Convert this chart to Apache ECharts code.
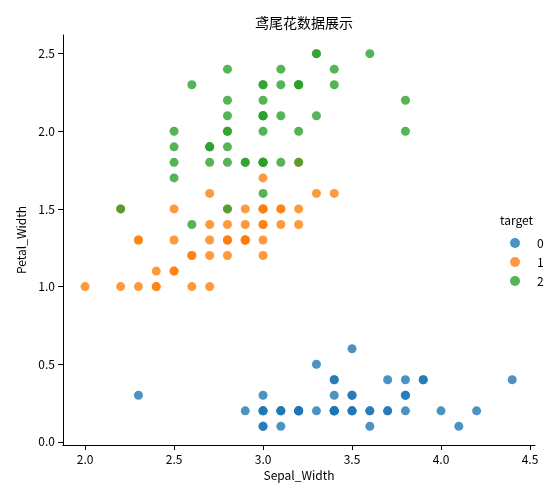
<!DOCTYPE html>
<html><head><meta charset="utf-8">
<script src="https://cdn.jsdelivr.net/npm/echarts@6/dist/echarts.min.js"></script>
<style>html,body{margin:0;padding:0;background:#fff}#c{width:558px;height:500px}</style>
</head><body><div id="c"></div>
<script>
const sepalWidth0=[3.5,3.0,3.2,3.1,3.6,3.9,3.4,3.4,2.9,3.1,3.7,3.4,3.0,3.0,4.0,4.4,3.9,3.5,3.8,3.8,3.4,3.7,3.6,3.3,3.4,3.0,3.4,3.5,3.4,3.2,3.1,3.4,4.1,4.2,3.1,3.2,3.5,3.6,3.0,3.4,3.5,2.3,3.2,3.5,3.8,3.0,3.8,3.2,3.7,3.3];
const petalWidth0=[0.2,0.2,0.2,0.2,0.2,0.4,0.3,0.2,0.2,0.1,0.2,0.2,0.1,0.1,0.2,0.4,0.4,0.3,0.3,0.3,0.2,0.4,0.2,0.5,0.2,0.2,0.4,0.2,0.2,0.2,0.2,0.4,0.1,0.2,0.2,0.2,0.2,0.1,0.2,0.2,0.3,0.3,0.2,0.6,0.4,0.3,0.2,0.2,0.2,0.2];
const sepalWidth1=[3.2,3.2,3.1,2.3,2.8,2.8,3.3,2.4,2.9,2.7,2.0,3.0,2.2,2.9,2.9,3.1,3.0,2.7,2.2,2.5,3.2,2.8,2.5,2.8,2.9,3.0,2.8,3.0,2.9,2.6,2.4,2.4,2.7,2.7,3.0,3.4,3.1,2.3,3.0,2.5,2.6,3.0,2.6,2.3,2.7,3.0,2.9,2.9,2.5,2.8];
const petalWidth1=[1.4,1.5,1.5,1.3,1.5,1.3,1.6,1.0,1.3,1.4,1.0,1.5,1.0,1.4,1.3,1.4,1.5,1.0,1.5,1.1,1.8,1.3,1.5,1.2,1.3,1.4,1.4,1.7,1.5,1.0,1.1,1.0,1.2,1.6,1.5,1.6,1.5,1.3,1.3,1.3,1.2,1.4,1.2,1.0,1.3,1.2,1.3,1.3,1.1,1.3];
const sepalWidth2=[3.3,2.7,3.0,2.9,3.0,3.0,2.5,2.9,2.5,3.6,3.2,2.7,3.0,2.5,2.8,3.2,3.0,3.8,2.6,2.2,3.2,2.8,2.8,2.7,3.3,3.2,2.8,3.0,2.8,3.0,2.8,3.8,2.8,2.8,2.6,3.0,3.4,3.1,3.0,3.1,3.1,3.1,2.7,3.2,3.3,3.0,2.5,3.0,3.4,3.0];
const petalWidth2=[2.5,1.9,2.1,1.8,2.2,2.1,1.7,1.8,1.8,2.5,2.0,1.9,2.1,2.0,2.4,2.3,1.8,2.2,2.3,1.5,2.3,2.0,2.0,1.8,2.1,1.8,1.8,1.8,2.1,1.6,1.9,2.0,2.2,1.5,1.4,2.3,2.4,1.8,1.8,2.1,2.4,2.3,1.9,2.3,2.5,2.3,1.9,2.0,2.3,1.8];
const xTicks=[2,2.5,3,3.5,4,4.5];
const yTicks=[0,0.5,1,1.5,2,2.5];
const targets=['0','1','2'];
const colors=['#1f77b4','#ff7f0e','#2ca02c'];
const xs=[sepalWidth0,sepalWidth1,sepalWidth2], ys=[petalWidth0,petalWidth1,petalWidth2];
const F='"Noto Sans CJK SC", sans-serif';
const ch=echarts.init(document.getElementById('c'));
ch.setOption({
  animation:false,
  title:{text:'鸢尾花数据展示',left:299,top:11,textAlign:'center',textStyle:{fontFamily:F,fontSize:14,fontWeight:'normal',color:'#000'}},
  grid:{left:63,right:23,top:35,bottom:55},
  xAxis:{type:'value',min:1.876,max:4.528,name:'Sepal_Width',nameLocation:'middle',nameGap:23,
    nameTextStyle:{fontFamily:F,fontSize:12,color:'#000'},
    axisLine:{onZero:false,lineStyle:{color:'#000'}},axisTick:{customValues:xTicks,lineStyle:{color:'#000'}},splitLine:{show:false},
    axisLabel:{fontFamily:F,fontSize:12,color:'#000',customValues:xTicks,formatter:v=>v.toFixed(1)}},
  yAxis:{type:'value',min:-0.02,max:2.62,name:'Petal_Width',nameLocation:'middle',nameGap:36,
    nameTextStyle:{fontFamily:F,fontSize:12,color:'#000'},
    axisLine:{show:true,onZero:false,lineStyle:{color:'#000'}},axisTick:{show:true,customValues:yTicks,lineStyle:{color:'#000'}},splitLine:{show:false},
    axisLabel:{fontFamily:F,fontSize:12,color:'#000',customValues:yTicks,formatter:v=>v.toFixed(1)}},
  legend:{orient:'vertical',left:505,top:232,itemGap:7,itemWidth:10,itemHeight:10,icon:'circle',
    textStyle:{fontFamily:F,fontSize:12,color:'#000',padding:[0,0,0,12]},data:targets},
  graphic:[{type:'text',left:500,top:214,style:{text:'target',font:'12px '+F,fill:'#000'}}],
  series:targets.map((t,i)=>({name:t,type:'scatter',symbolSize:9,
    itemStyle:{color:colors[i],opacity:0.8},
    data:xs[i].map((x,j)=>[x,ys[i][j]])}))
});
</script></body></html>
